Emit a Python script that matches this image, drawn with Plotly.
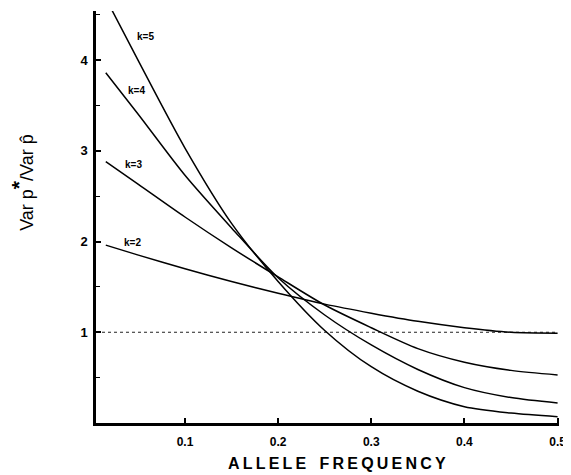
import plotly.graph_objects as go

# Allele frequency grid (x) and variance-ratio readings for each k (y)
allele_freq = [0.015, 0.05, 0.10, 0.15, 0.20, 0.25, 0.30, 0.35, 0.40, 0.45, 0.50]
ratio_k2 = [1.96, 1.85, 1.70, 1.56, 1.43, 1.31, 1.21, 1.12, 1.05, 1.00, 0.99]
ratio_k3 = [2.88, 2.63, 2.27, 1.93, 1.61, 1.30, 1.05, 0.82, 0.67, 0.58, 0.53]
ratio_k4 = [3.86, 3.40, 2.73, 2.15, 1.60, 1.19, 0.86, 0.59, 0.39, 0.28, 0.22]
ratio_k5 = [4.68, 3.99, 3.03, 2.20, 1.56, 1.02, 0.62, 0.35, 0.18, 0.11, 0.07]

series_names = ["k=2", "k=3", "k=4", "k=5"]
series_values = [ratio_k2, ratio_k3, ratio_k4, ratio_k5]
# label anchor positions (data coords) for the k labels
label_x = [0.044, 0.0445, 0.048, 0.0575]
label_y = [1.99, 2.85, 3.66, 4.26]

x_ticks = [0.1, 0.2, 0.3, 0.4, 0.5]
x_ticktext = ["0.1", "0.2", "0.3", "0.4", "0.5"]
y_ticks = [1, 2, 3, 4]
y_ticktext = ["1", "2", "3", "4"]
y_minor = [0.5, 1.5, 2.5, 3.5, 4.5]
reference_level = 1.0
x_range = [0.0045, 0.5015]
y_range = [0, 4.54]

FONT = "Liberation Sans"

fig = go.Figure()

# dotted reference line at ratio = 1
fig.add_trace(go.Scatter(
    x=[x_range[0], 0.5], y=[reference_level, reference_level],
    mode="lines", line=dict(color="#222", width=1, dash="dot"),
    showlegend=False, hoverinfo="skip"))

for name, vals in zip(series_names, series_values):
    fig.add_trace(go.Scatter(
        x=allele_freq, y=vals, mode="lines", name=name,
        line=dict(color="black", width=1.5, shape="spline", smoothing=0.8),
        showlegend=False))

for name, lx, ly in zip(series_names, label_x, label_y):
    fig.add_annotation(x=lx, y=ly, xref="x", yref="y", text=name,
                       showarrow=False, xanchor="center", yanchor="middle",
                       font=dict(family=FONT, size=10, color="black", weight="bold"))

# axis titles
fig.add_annotation(x=-0.158, y=0.585, xref="paper", yref="paper",
                   text="Var p<sup><span style='font-size:21px'><b>*</b></span></sup>/Var p\u0302",
                   textangle=-90, showarrow=False, xanchor="center", yanchor="middle",
                   font=dict(family=FONT, size=18, color="black"))
fig.add_annotation(x=0.52, y=-0.098, xref="paper", yref="paper",
                   text="A L L E L E&nbsp;&nbsp;&nbsp;F R E Q U E N C Y".replace(" ", "\u2009").replace("&nbsp;", " "),
                   showarrow=False, xanchor="center", yanchor="middle",
                   font=dict(family=FONT, size=16, color="black", weight="bold"))

fig.update_xaxes(range=x_range, tickvals=x_ticks, ticktext=x_ticktext,
                 ticks="inside", ticklen=5, tickwidth=1.5, tickcolor="black",
                 showline=True, linecolor="black", linewidth=2.5,
                 showgrid=False, zeroline=False, ticklabelstandoff=6,
                 tickfont=dict(family=FONT, size=12, color="black", weight="bold"))
fig.update_yaxes(range=y_range, tickvals=y_ticks, ticktext=y_ticktext,
                 ticks="inside", ticklen=5, tickwidth=1.5, tickcolor="black",
                 minor=dict(tickvals=y_minor, ticks="inside", ticklen=4,
                            tickwidth=1, tickcolor="black", showgrid=False),
                 showline=True, linecolor="black", linewidth=2.5,
                 showgrid=False, zeroline=False, ticklabelstandoff=3,
                 tickfont=dict(family=FONT, size=13, color="black", weight="bold"))

# page body has an 8px margin, so the figure is sized to fit the window
fig.update_layout(width=563, height=467,
                  margin=dict(l=88, r=12, t=3, b=52, autoexpand=False),
                  paper_bgcolor="white", plot_bgcolor="white",
                  showlegend=False)

fig.write_html("out.html")
